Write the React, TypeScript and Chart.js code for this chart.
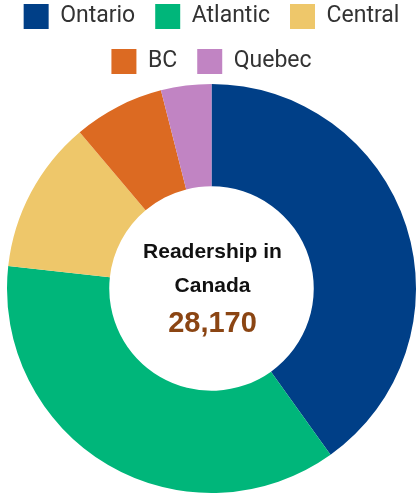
import React, { useEffect, useRef } from "react";
import { Chart, registerables } from "chart.js";

Chart.register(...registerables);

const categories = ["Ontario", "Atlantic", "Central", "BC", "Quebec"];
const readers = [11300, 10320, 3410, 2020, 1120];
const sliceColors = ["#003F87", "#00B67A", "#EEC76A", "#DC6A22", "#C184C3"];
const centerTitle = ["Readership in", "Canada"];
const centerTotal = "28,170";

const centerTextPlugin = {
  id: "centerText",
  afterDraw(chart: any) {
    const meta = chart.getDatasetMeta(0);
    if (!meta || !meta.data.length) return;
    const arc = meta.data[0];
    const cx = arc.x + 1;
    const cy = arc.y + 1;
    const ctx = chart.ctx;
    ctx.save();
    ctx.textAlign = "center";
    ctx.textBaseline = "alphabetic";
    ctx.fillStyle = "#111111";
    ctx.font = "bold 21px 'Liberation Sans', Arial, sans-serif";
    ctx.fillText(centerTitle[0], cx, cy - 32);
    ctx.fillText(centerTitle[1], cx, cy + 2);
    ctx.fillStyle = "#8B4513";
    ctx.font = "bold 29px 'Liberation Sans', Arial, sans-serif";
    ctx.fillText(centerTotal, cx, cy + 42);
    ctx.restore();
  },
};

export default function App() {
  const canvasRef = useRef<HTMLCanvasElement | null>(null);

  useEffect(() => {
    if (!canvasRef.current) return;
    const chart = new Chart(canvasRef.current, {
      type: "doughnut",
      data: {
        labels: categories,
        datasets: [
          {
            data: readers,
            backgroundColor: sliceColors,
            borderWidth: 0,
            hoverOffset: 0,
          },
        ],
      },
      options: {
        responsive: true,
        maintainAspectRatio: false,
        animation: false,
        cutout: "50%",
        layout: { padding: { left: 0, right: 4, top: 0, bottom: 5 } },
        plugins: {
          legend: {
            position: "top",
            labels: {
              boxWidth: 25,
              boxHeight: 25,
              padding: 20,
              color: "#333333",
              font: { family: "Roboto, sans-serif", size: 23 },
            },
          },
          tooltip: { enabled: false },
        },
      },
      plugins: [centerTextPlugin],
    });
    return () => chart.destroy();
  }, []);

  return (
    <div
      style={{
        position: "fixed",
        left: 0,
        top: 0,
        width: 417,
        height: 498,
        overflow: "hidden",
        background: "#ffffff",
      }}
    >
      <div
        style={{
          position: "absolute",
          left: -10,
          top: -16,
          width: 447,
          height: 514,
        }}
      >
        <canvas ref={canvasRef} />
      </div>
    </div>
  );
}
